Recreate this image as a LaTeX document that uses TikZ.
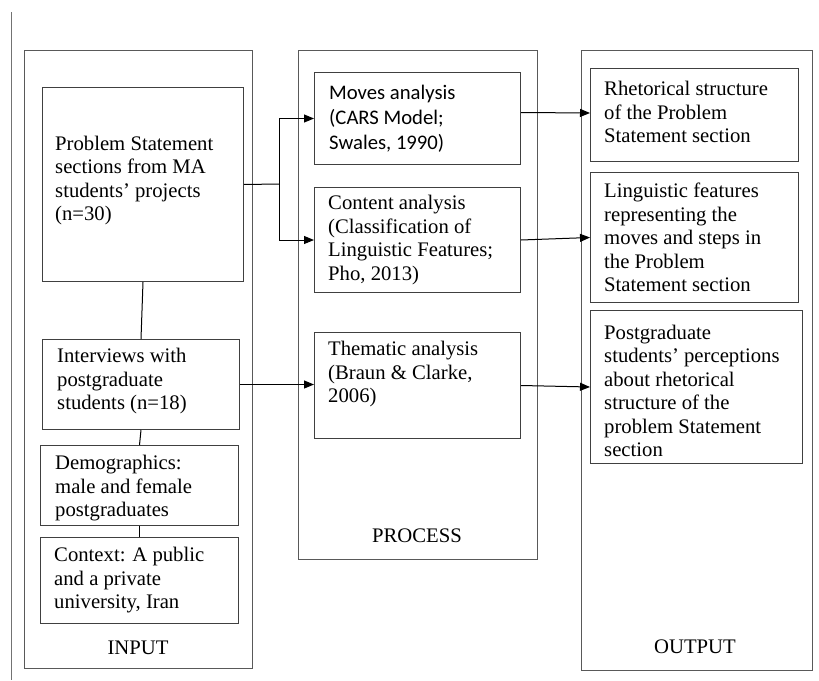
\documentclass[tikz,border=0pt]{standalone}
\usepackage{fontspec}
\setmainfont{Liberation Serif}
\newfontfamily\calfont{Carlito}
\usetikzlibrary{arrows.meta}
\begin{document}
\begin{tikzpicture}[x=1pt,y=-1pt,
 frame/.style={draw=black!75, line width=1pt, rectangle, anchor=north west, inner sep=0pt},
 outerbox/.style={frame, draw=black!65},
 txt/.style={inner sep=0pt, align=left, anchor=west, font=\fontsize{20.7}{23.5}\selectfont},
 sanstxt/.style={txt, font=\calfont\fontsize{20.7}{25}\selectfont},
 lbl/.style={inner sep=0pt, font=\fontsize{20.7}{23.5}\selectfont},
 conn/.style={draw=black, line width=1pt},
 arr/.style={conn, -{Triangle[length=10pt,width=8pt]}}]
\useasboundingbox (0,0) rectangle (819,680);
\draw[black!55, line width=0.8pt] (11,12) -- (11,680);

% outer frames
\node[outerbox, minimum width=228pt, minimum height=618pt] (inbox) at (24,50) {};
\node[outerbox, minimum width=239pt, minimum height=509pt] (procbox) at (298,50) {};
\node[outerbox, minimum width=231pt, minimum height=620pt] (outbox) at (581,50) {};

% input boxes
\node[frame, minimum width=201pt, minimum height=194pt] (ps) at (42,87) {};
\node[frame, minimum width=197pt, minimum height=90pt] (int) at (42,339) {};
\node[frame, minimum width=198pt, minimum height=80pt] (demo) at (40,445) {};
\node[frame, minimum width=198pt, minimum height=86pt] (ctx) at (40,537) {};

% process boxes
\node[frame, minimum width=206pt, minimum height=92pt] (moves) at (314,72) {};
\node[frame, minimum width=206pt, minimum height=105pt] (content) at (314,187) {};
\node[frame, minimum width=206pt, minimum height=106pt] (them) at (314,332) {};

% output boxes
\node[frame, minimum width=208pt, minimum height=93pt] (rh) at (590,68) {};
\node[frame, minimum width=208pt, minimum height=130pt] (ling) at (590,172) {};
\node[frame, minimum width=212pt, minimum height=153pt] (pg) at (590,310) {};

% texts
\node[txt] (pst) at ([xshift=13pt,yshift=4pt]ps.west) {Problem Statement\\sections from MA\\students’ projects\\(n=30)};
\node[txt] (intt) at ([xshift=15pt,yshift=3pt]int.west) {Interviews with\\postgraduate\\students (n=18)};
\node[txt] (demot) at ([xshift=15pt,yshift=-3pt]demo.west) {Demographics:\\male and female\\postgraduates};
\node[txt] (ctxt) at ([xshift=14pt]ctx.west) {Context: A public\\and a private\\university, Iran};

\node[sanstxt] (movest) at ([xshift=15pt]moves.west) {Moves analysis\\(CARS Model;\\Swales, 1990)};
\node[txt] (contentt) at ([xshift=14pt]content.west) {Content analysis\\(Classification of\\Linguistic Features;\\Pho, 2013)};
\node[txt, anchor=north west] (themt) at ([xshift=14pt,yshift=-9pt]them.north west) {Thematic analysis\\(Braun \& Clarke,\\2006)};

\node[txt] (rht) at ([xshift=14pt,yshift=3pt]rh.west) {Rhetorical structure\\of the Problem\\Statement section};
\node[txt] (lingt) at ([xshift=14pt]ling.west) {Linguistic features\\representing the\\moves and steps in\\the Problem\\Statement section};
\node[txt] (pgt) at ([xshift=14pt,yshift=-4pt]pg.west) {Postgraduate\\students’ perceptions\\about rhetorical\\structure of the\\problem Statement\\section};

% labels
\node[lbl] (inl) at (138,648) {INPUT};
\node[lbl] (procl) at (417,536) {PROCESS};
\node[lbl] (outl) at (695,647) {OUTPUT};

% connectors
\coordinate (j) at (279,184);
\draw[conn] (ps.east) -- (j);
\draw[arr] (j) |- (moves.west);
\draw[arr] (j) |- (content.west);
\draw[arr] (int.east) -- (int.east -| them.west);
\draw[arr] ([yshift=6pt]moves.east) -- ([yshift=2pt]rh.west);
\draw[arr] (content.east) -- (ling.west);
\draw[arr] (them.east) -- (pg.west);
\draw[conn] (ps.south) -- (int.north);
\draw[conn] (int.south) -- (demo.north);
\draw[conn] (demo.south) -- (ctx.north);
\end{tikzpicture}
\end{document}
